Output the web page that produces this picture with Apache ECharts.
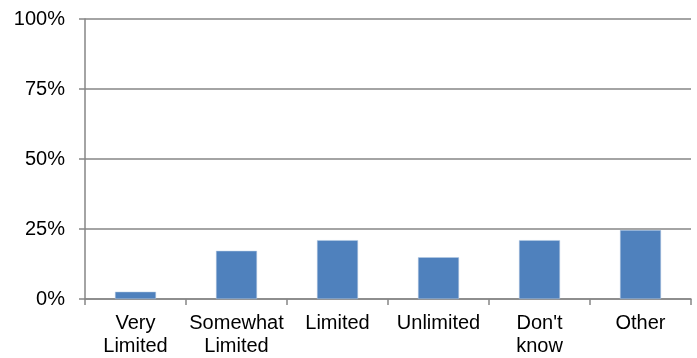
<!DOCTYPE html>
<html>
<head>
<meta charset="utf-8">
<script src="https://cdn.jsdelivr.net/npm/echarts@6/dist/echarts.min.js"></script>
<style>html,body{margin:0;padding:0;background:#fff;}#c{width:697px;height:358px;}</style>
</head>
<body>
<div id="c"></div>
<script>
const categories = ["Very\nLimited", "Somewhat\nLimited", "Limited", "Unlimited", "Don't\nknow", "Other"];
const values = [2.6, 17.2, 21.0, 14.9, 21.0, 24.6];
const yTicks = [0, 25, 50, 75, 100];

const chart = echarts.init(document.getElementById('c'), null, {renderer: 'canvas'});
chart.setOption({
  animation: false,
  backgroundColor: '#ffffff',
  grid: {left: 85, right: 6, top: 19, bottom: 59, containLabel: false},
  xAxis: {
    type: 'category',
    data: categories,
    axisLine: {lineStyle: {color: '#868686', width: 1.5}},
    axisTick: {show: true, length: 6, alignWithLabel: false, lineStyle: {color: '#868686', width: 1.5}},
    axisLabel: {color: '#000', fontFamily: 'Liberation Sans, Arial, sans-serif', fontSize: 20, lineHeight: 23, margin: 13, interval: 0}
  },
  yAxis: {
    type: 'value',
    min: yTicks[0],
    max: yTicks[yTicks.length - 1],
    interval: 25,
    axisLine: {show: true, lineStyle: {color: '#868686', width: 1.5}},
    axisTick: {show: true, length: 6, lineStyle: {color: '#868686', width: 1.5}},
    splitLine: {show: true, lineStyle: {color: '#868686', width: 1.5}},
    axisLabel: {color: '#000', fontFamily: 'Liberation Sans, Arial, sans-serif', fontSize: 20, margin: 20, formatter: '{value}%'}
  },
  series: [{
    type: 'bar',
    data: values,
    barWidth: 41,
    itemStyle: {color: '#4F81BD', borderColor: '#b9cde5', borderWidth: 0.5}
  }]
});
</script>
</body>
</html>
